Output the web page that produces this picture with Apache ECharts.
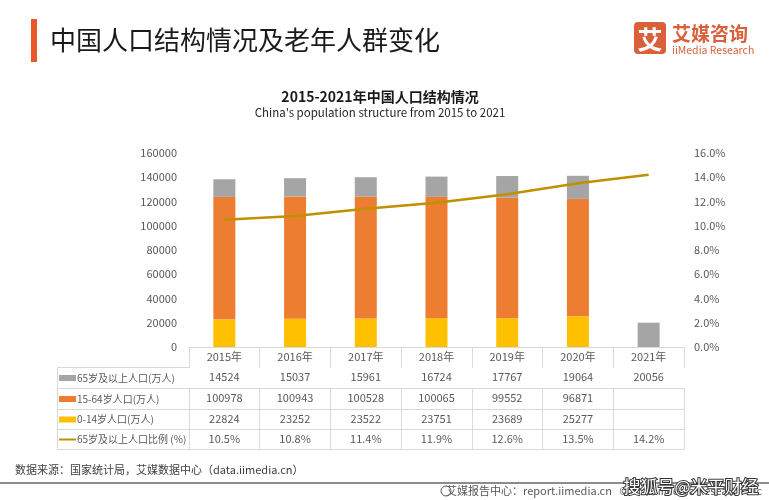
<!DOCTYPE html>
<html><head><meta charset="utf-8">
<script src="https://cdn.jsdelivr.net/npm/echarts@6/dist/echarts.min.js"></script>
<style>html,body{margin:0;padding:0;background:#fff}#c{width:769px;height:500px}</style>
</head><body><div id="c"></div>
<script>
// ---- data ----
const years = ['2015年','2016年','2017年','2018年','2019年','2020年','2021年'];
const pop65 = [14524, 15037, 15961, 16724, 17767, 19064, 20056];
const pop1564 = [100978, 100943, 100528, 100065, 99552, 96871, null];
const pop014 = [22824, 23252, 23522, 23751, 23689, 25277, null];
const ratio65 = [10.5, 10.8, 11.4, 11.9, 12.6, 13.5, 14.2];
const seriesNames = ['65岁及以上人口(万人)', '15-64岁人口(万人)', '0-14岁人口(万人)', '65岁及以上人口比例 (%)'];

// ---- style ----
const FONT = '"Noto Sans CJK SC", "Noto Sans", sans-serif';
const C_GRAY = '#A5A5A5', C_ORANGE = '#ED7D31', C_YELLOW = '#FFC000', C_GOLD = '#BF9000';
const TXT = '#595959', LINE = '#D9D9D9';
const G_LEFT = 189, G_RIGHT = 85, G_TOP = 153, G_BOTTOM = 153;
const AXIS_Y = 500 - G_BOTTOM;
const rowOffsets = [20, 41, 62, 82, 102];
const TABLE_LEFT = 57;

const chart = echarts.init(document.getElementById('c'), null, {renderer: 'canvas'});

function rowAxis(vals, offset, len, fmt, showLabel) {
  return {
    type: 'category', gridIndex: 0, position: 'bottom', offset: offset,
    data: vals.map(v => (v === null || v === undefined) ? '' : fmt(v)),
    axisLine: {show: true, lineStyle: {color: LINE, width: 1}},
    axisTick: {show: len > 0, length: len, interval: 0, lineStyle: {color: LINE, width: 1}},
    axisLabel: {show: showLabel, interval: 0, margin: 10, verticalAlign: 'middle', color: TXT, fontSize: 11, fontFamily: FONT},
    splitLine: {show: false}
  };
}

const xAxes = [
  rowAxis(years, 0, 20, v => v, true),
  rowAxis(pop65, rowOffsets[0], 21, v => String(v), true),
  rowAxis(pop1564, rowOffsets[1], 21, v => String(v), true),
  rowAxis(pop014, rowOffsets[2], 20, v => String(v), true),
  rowAxis(ratio65, rowOffsets[3], 20, v => v.toFixed(1) + '%', true),
  rowAxis(years, rowOffsets[4], 0, v => v, false)
];

// left label column of the data table
const graphics = [];
const hy = [AXIS_Y].concat(rowOffsets.map(o => AXIS_Y + o));
for (let i = 1; i < hy.length; i++) {
  graphics.push({type: 'line', silent: true, shape: {x1: TABLE_LEFT, y1: hy[i] + 0.5, x2: G_LEFT, y2: hy[i] + 0.5}, style: {stroke: LINE, lineWidth: 1}});
}
graphics.push({type: 'line', silent: true, shape: {x1: TABLE_LEFT + 0.5, y1: hy[1], x2: TABLE_LEFT + 0.5, y2: hy[5]}, style: {stroke: LINE, lineWidth: 1}});
const swatchColors = [C_GRAY, C_ORANGE, C_YELLOW, C_GOLD];
for (let i = 0; i < 4; i++) {
  const cy = (hy[i + 1] + hy[i + 2]) / 2 + 0.5;
  if (i < 3) {
    graphics.push({type: 'rect', silent: true, shape: {x: 59, y: cy - 3, width: 17, height: 6}, style: {fill: swatchColors[i]}});
  } else {
    graphics.push({type: 'rect', silent: true, shape: {x: 59, y: cy - 1, width: 17, height: 2}, style: {fill: swatchColors[i]}});
  }
  graphics.push({type: 'text', silent: true, style: {text: seriesNames[i], x: 77, y: cy, textVerticalAlign: 'middle', fill: TXT, fontSize: 10, fontFamily: FONT}});
}

// titles / decorations
graphics.push(
  {type: 'rect', shape: {x: 31, y: 19, width: 6, height: 43}, style: {fill: '#E8582A'}},
  {type: 'text', style: {text: '中国人口结构情况及老年人群变化', x: 50, y: 40, textVerticalAlign: 'middle', fill: '#1a1a1a', fontSize: 26, fontFamily: FONT}},
  {type: 'rect', shape: {x: 634, y: 22, width: 32, height: 32, r: 4}, style: {fill: '#D9603B'}},
  {type: 'text', style: {text: '艾', x: 650, y: 39, textAlign: 'center', textVerticalAlign: 'middle', fill: '#fff', fontSize: 25, fontWeight: 'bold', fontFamily: FONT}},
  {type: 'text', style: {text: '艾媒咨询', x: 672, y: 34, textVerticalAlign: 'middle', fill: '#D9603B', fontSize: 19, fontWeight: 'bold', fontFamily: FONT}},
  {type: 'text', style: {text: 'iiMedia Research', x: 672, y: 50, textVerticalAlign: 'middle', fill: '#D9603B', fontSize: 10.5, fontFamily: FONT}},
  {type: 'text', style: {text: '2015-2021年中国人口结构情况', x: 380, y: 97, textAlign: 'center', textVerticalAlign: 'middle', fill: '#1a1a1a', fontSize: 14, fontWeight: 'bold', fontFamily: FONT}},
  {type: 'text', style: {text: "China's population structure from 2015 to 2021", x: 380, y: 113, textAlign: 'center', textVerticalAlign: 'middle', fill: '#262626', fontSize: 11.5, fontFamily: FONT}},
  {type: 'text', style: {text: '数据来源：国家统计局，艾媒数据中心（data.iimedia.cn）', x: 15, y: 470, textVerticalAlign: 'middle', fill: '#404040', fontSize: 11, fontFamily: FONT}},
  {type: 'rect', shape: {x: 0, y: 482, width: 769, height: 2}, style: {fill: '#8C8C8C'}},
  {type: 'circle', shape: {cx: 446, cy: 491, r: 5}, style: {fill: 'none', stroke: '#595959', lineWidth: 1}},
  {type: 'text', style: {text: '艾媒报告中心：report.iimedia.cn   ©2022  iiMedia Research Inc', x: 762, y: 491, textAlign: 'right', textVerticalAlign: 'middle', fill: '#595959', fontSize: 11, fontFamily: FONT}},
  {type: 'text', style: {text: '搜狐号@米平财经', x: 691, y: 487, textAlign: 'center', textVerticalAlign: 'middle', fill: '#fff', stroke: '#333', lineWidth: 2, fontSize: 17, fontFamily: FONT}}
);

chart.setOption({
  animation: false,
  backgroundColor: '#fff',
  grid: {left: G_LEFT, right: G_RIGHT, top: G_TOP, bottom: G_BOTTOM, containLabel: false},
  xAxis: xAxes,
  yAxis: [
    {type: 'value', min: 0, max: 160000, interval: 20000,
     axisLine: {show: false}, axisTick: {show: false}, splitLine: {show: false},
     axisLabel: {color: TXT, fontSize: 11, margin: 12, fontFamily: FONT, formatter: v => String(v)}},
    {type: 'value', min: 0, max: 16, interval: 2, position: 'right',
     axisLine: {show: false}, axisTick: {show: false}, splitLine: {show: false},
     axisLabel: {color: TXT, fontSize: 11, margin: 10, fontFamily: FONT, formatter: v => v.toFixed(1) + '%'}}
  ],
  series: [
    {name: seriesNames[2], type: 'bar', stack: 'pop', xAxisIndex: 0, yAxisIndex: 0, barWidth: 22, data: pop014, itemStyle: {color: C_YELLOW}},
    {name: seriesNames[1], type: 'bar', stack: 'pop', xAxisIndex: 0, yAxisIndex: 0, barWidth: 22, data: pop1564, itemStyle: {color: C_ORANGE}},
    {name: seriesNames[0], type: 'bar', stack: 'pop', xAxisIndex: 0, yAxisIndex: 0, barWidth: 22, data: pop65, itemStyle: {color: C_GRAY}},
    {name: seriesNames[3], type: 'line', xAxisIndex: 0, yAxisIndex: 1, data: ratio65, showSymbol: false, symbol: 'none',
     lineStyle: {color: C_GOLD, width: 2.5}, itemStyle: {color: C_GOLD}, z: 5}
  ],
  graphic: graphics
});
</script></body></html>
